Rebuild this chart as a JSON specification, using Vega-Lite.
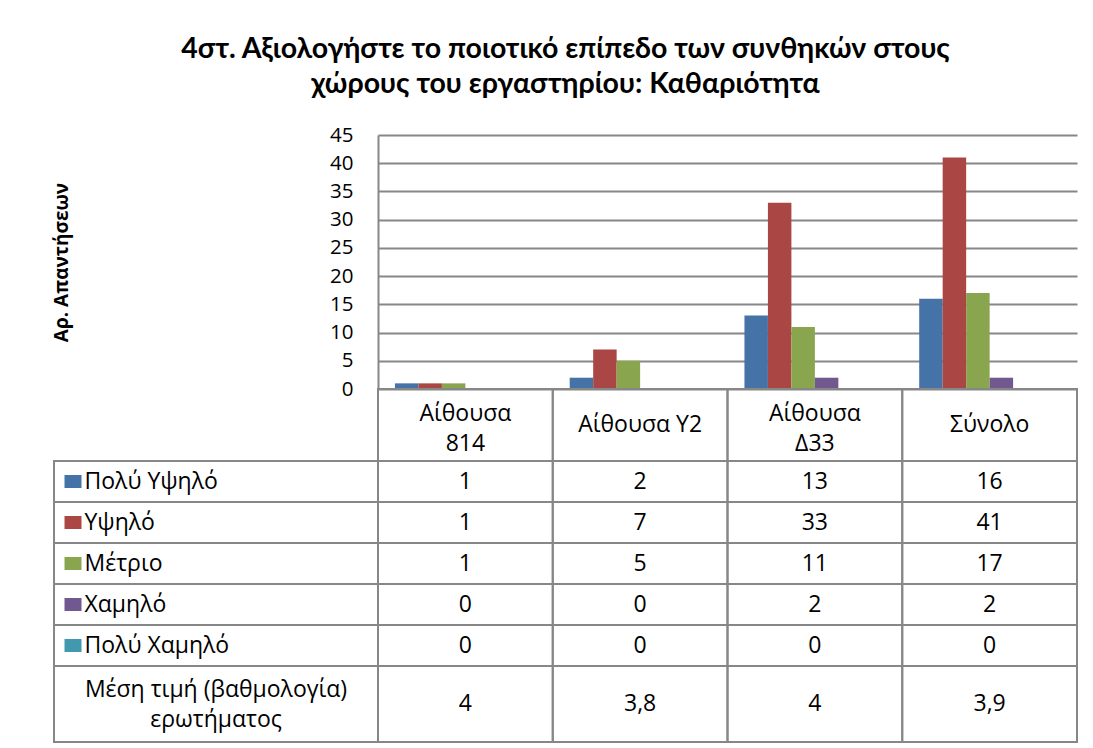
{
  "$schema": "https://vega.github.io/schema/vega-lite/v6.json",
  "background": "white",
  "padding": {"left": 52, "top": 34, "right": 5, "bottom": 2},
  "title": {
    "text": ["4στ. Αξιολογήστε το ποιοτικό επίπεδο των συνθηκών στους", "χώρους του εργαστηρίου: Καθαριότητα"],
    "font": "Lato", "fontSize": 28.5, "fontWeight": "bold", "color": "black",
    "lineHeight": 35, "anchor": "middle", "offset": 27
  },
  "config": {
    "view": {"stroke": null},
    "font": "Open Sans",
    "locale": {"number": {"decimal": ",", "thousands": ".", "grouping": [3], "currency": ["", " €"]}},
    "text": {"fontSize": 23, "color": "black", "font": "Open Sans"}
  },
  "datasets": {
    "counts": [
      {"cat": "Αίθουσα\n814", "series": "Πολύ Υψηλό", "value": 1},
      {"cat": "Αίθουσα\n814", "series": "Υψηλό", "value": 1},
      {"cat": "Αίθουσα\n814", "series": "Μέτριο", "value": 1},
      {"cat": "Αίθουσα\n814", "series": "Χαμηλό", "value": 0},
      {"cat": "Αίθουσα\n814", "series": "Πολύ Χαμηλό", "value": 0},
      {"cat": "Αίθουσα Υ2", "series": "Πολύ Υψηλό", "value": 2},
      {"cat": "Αίθουσα Υ2", "series": "Υψηλό", "value": 7},
      {"cat": "Αίθουσα Υ2", "series": "Μέτριο", "value": 5},
      {"cat": "Αίθουσα Υ2", "series": "Χαμηλό", "value": 0},
      {"cat": "Αίθουσα Υ2", "series": "Πολύ Χαμηλό", "value": 0},
      {"cat": "Αίθουσα\nΔ33", "series": "Πολύ Υψηλό", "value": 13},
      {"cat": "Αίθουσα\nΔ33", "series": "Υψηλό", "value": 33},
      {"cat": "Αίθουσα\nΔ33", "series": "Μέτριο", "value": 11},
      {"cat": "Αίθουσα\nΔ33", "series": "Χαμηλό", "value": 2},
      {"cat": "Αίθουσα\nΔ33", "series": "Πολύ Χαμηλό", "value": 0},
      {"cat": "Σύνολο", "series": "Πολύ Υψηλό", "value": 16},
      {"cat": "Σύνολο", "series": "Υψηλό", "value": 41},
      {"cat": "Σύνολο", "series": "Μέτριο", "value": 17},
      {"cat": "Σύνολο", "series": "Χαμηλό", "value": 2},
      {"cat": "Σύνολο", "series": "Πολύ Χαμηλό", "value": 0}
    ],
    "means": [
      {"cat": "Αίθουσα\n814", "mean": 4},
      {"cat": "Αίθουσα Υ2", "mean": 3.8},
      {"cat": "Αίθουσα\nΔ33", "mean": 4},
      {"cat": "Σύνολο", "mean": 3.9}
    ],
    "serieslist": [
      {"series": "Πολύ Υψηλό"},
      {"series": "Υψηλό"},
      {"series": "Μέτριο"},
      {"series": "Χαμηλό"},
      {"series": "Πολύ Χαμηλό"}
    ]
  },
  "columns": 2,
  "spacing": 0,
  "bounds": "flush",
  "resolve": {"scale": {"x": "independent", "y": "independent"}},
  "concat": [
    {
      "width": 324, "height": 254,
      "data": {"values": [{}]},
      "mark": {"type": "text", "text": ""},
      "encoding": {}
    },
    {
      "width": 699, "height": 254,
      "data": {"name": "counts"},
      "mark": {"type": "bar"},
      "encoding": {
        "x": {"field": "cat", "type": "nominal", "sort": null,
          "scale": {"domain": ["Αίθουσα\n814", "Αίθουσα Υ2", "Αίθουσα\nΔ33", "Σύνολο"], "paddingInner": 0.194, "paddingOuter": 0.097},
          "axis": null},
        "xOffset": {"field": "series", "type": "nominal",
          "scale": {"domain": ["Πολύ Υψηλό", "Υψηλό", "Μέτριο", "Χαμηλό", "Πολύ Χαμηλό", "Μέση τιμή"], "paddingInner": 0, "paddingOuter": 0}},
        "y": {"field": "value", "type": "quantitative",
          "scale": {"domain": [0, 45], "nice": false},
          "axis": {"values": [0, 5, 10, 15, 20, 25, 30, 35, 40, 45], "title": "Αρ. Απαντήσεων",
            "titleFont": "Open Sans", "titleFontSize": 19, "titleFontWeight": "bold", "titleColor": "black", "titlePadding": 258,
            "labelFont": "Open Sans", "labelFontSize": 20.5, "labelColor": "black", "labelPadding": 25,
            "ticks": false, "tickSize": 0, "domainColor": "#878787", "domainWidth": 2,
            "grid": true, "gridColor": "#878787", "gridWidth": 2}},
        "color": {"field": "series", "type": "nominal",
          "scale": {"domain": ["Πολύ Υψηλό", "Υψηλό", "Μέτριο", "Χαμηλό", "Πολύ Χαμηλό"], "range": ["#4572A7", "#AA4643", "#89A54E", "#71588F", "#4198AF"]},
          "legend": null}
      }
    },
    {
      "width": 324, "height": 72,
      "data": {"values": [{}]},
      "mark": {"type": "text", "text": ""},
      "encoding": {}
    },
    {
      "width": 699, "height": 72,
      "view": {"stroke": "#878787", "strokeWidth": 2},
      "data": {"name": "means"},
      "encoding": {
        "x": {"field": "cat", "type": "nominal", "sort": null,
          "scale": {"domain": ["Αίθουσα\n814", "Αίθουσα Υ2", "Αίθουσα\nΔ33", "Σύνολο"], "paddingInner": 0, "paddingOuter": 0},
          "axis": null}
      },
      "layer": [
        {"mark": {"type": "rect", "fill": "transparent", "stroke": "#878787", "strokeWidth": 2}},
        {"transform": [{"filter": "indexof(datum.cat, '\\n') >= 0"}],
         "mark": {"type": "text", "lineBreak": "\n", "lineHeight": 30, "dy": -11}, "encoding": {"text": {"field": "cat"}}},
        {"transform": [{"filter": "indexof(datum.cat, '\\n') < 0"}],
         "mark": {"type": "text"}, "encoding": {"text": {"field": "cat"}}}
      ]
    },
    {
      "width": 324, "height": 205,
      "view": {"stroke": "#878787", "strokeWidth": 2},
      "data": {"name": "serieslist"},
      "mark": {"type": "rect", "fill": "transparent", "stroke": "#878787", "strokeWidth": 2},
      "encoding": {
        "y": {"field": "series", "type": "nominal", "sort": null,
          "scale": {"domain": ["Πολύ Υψηλό", "Υψηλό", "Μέτριο", "Χαμηλό", "Πολύ Χαμηλό"], "paddingInner": 0, "paddingOuter": 0},
          "axis": {"title": null, "orient": "left", "offset": -27, "domain": false, "grid": false,
            "ticks": true, "tickSize": 17, "tickWidth": 13, "tickCap": "butt",
            "tickColor": {"condition": [
              {"test": "datum.value === 'Πολύ Υψηλό'", "value": "#4572A7"},
              {"test": "datum.value === 'Υψηλό'", "value": "#AA4643"},
              {"test": "datum.value === 'Μέτριο'", "value": "#89A54E"},
              {"test": "datum.value === 'Χαμηλό'", "value": "#71588F"}
            ], "value": "#4198AF"},
            "labelAlign": "left", "labelPadding": -20, "labelFont": "Open Sans", "labelFontSize": 23, "labelColor": "black", "labelLimit": 0}}
      }
    },
    {
      "width": 699, "height": 205,
      "view": {"stroke": "#878787", "strokeWidth": 2},
      "data": {"name": "counts"},
      "encoding": {
        "x": {"field": "cat", "type": "nominal", "sort": null,
          "scale": {"domain": ["Αίθουσα\n814", "Αίθουσα Υ2", "Αίθουσα\nΔ33", "Σύνολο"], "paddingInner": 0, "paddingOuter": 0},
          "axis": null},
        "y": {"field": "series", "type": "nominal", "sort": null,
          "scale": {"domain": ["Πολύ Υψηλό", "Υψηλό", "Μέτριο", "Χαμηλό", "Πολύ Χαμηλό"], "paddingInner": 0, "paddingOuter": 0},
          "axis": null}
      },
      "layer": [
        {"mark": {"type": "rect", "fill": "transparent", "stroke": "#878787", "strokeWidth": 2}},
        {"mark": {"type": "text"}, "encoding": {"text": {"field": "value", "type": "quantitative"}}}
      ]
    },
    {
      "width": 324, "height": 76,
      "view": {"stroke": "#878787", "strokeWidth": 2},
      "data": {"values": [{"label": "Μέση τιμή (βαθμολογία)\nερωτήματος"}]},
      "mark": {"type": "text", "lineBreak": "\n", "lineHeight": 30, "dy": -14},
      "encoding": {"text": {"field": "label"}}
    },
    {
      "width": 699, "height": 76,
      "view": {"stroke": "#878787", "strokeWidth": 2},
      "data": {"name": "means"},
      "encoding": {
        "x": {"field": "cat", "type": "nominal", "sort": null,
          "scale": {"domain": ["Αίθουσα\n814", "Αίθουσα Υ2", "Αίθουσα\nΔ33", "Σύνολο"], "paddingInner": 0, "paddingOuter": 0},
          "axis": null}
      },
      "layer": [
        {"mark": {"type": "rect", "fill": "transparent", "stroke": "#878787", "strokeWidth": 2}},
        {"mark": {"type": "text"}, "encoding": {"text": {"field": "mean", "type": "quantitative", "format": ".1~f"}}}
      ]
    }
  ]
}
